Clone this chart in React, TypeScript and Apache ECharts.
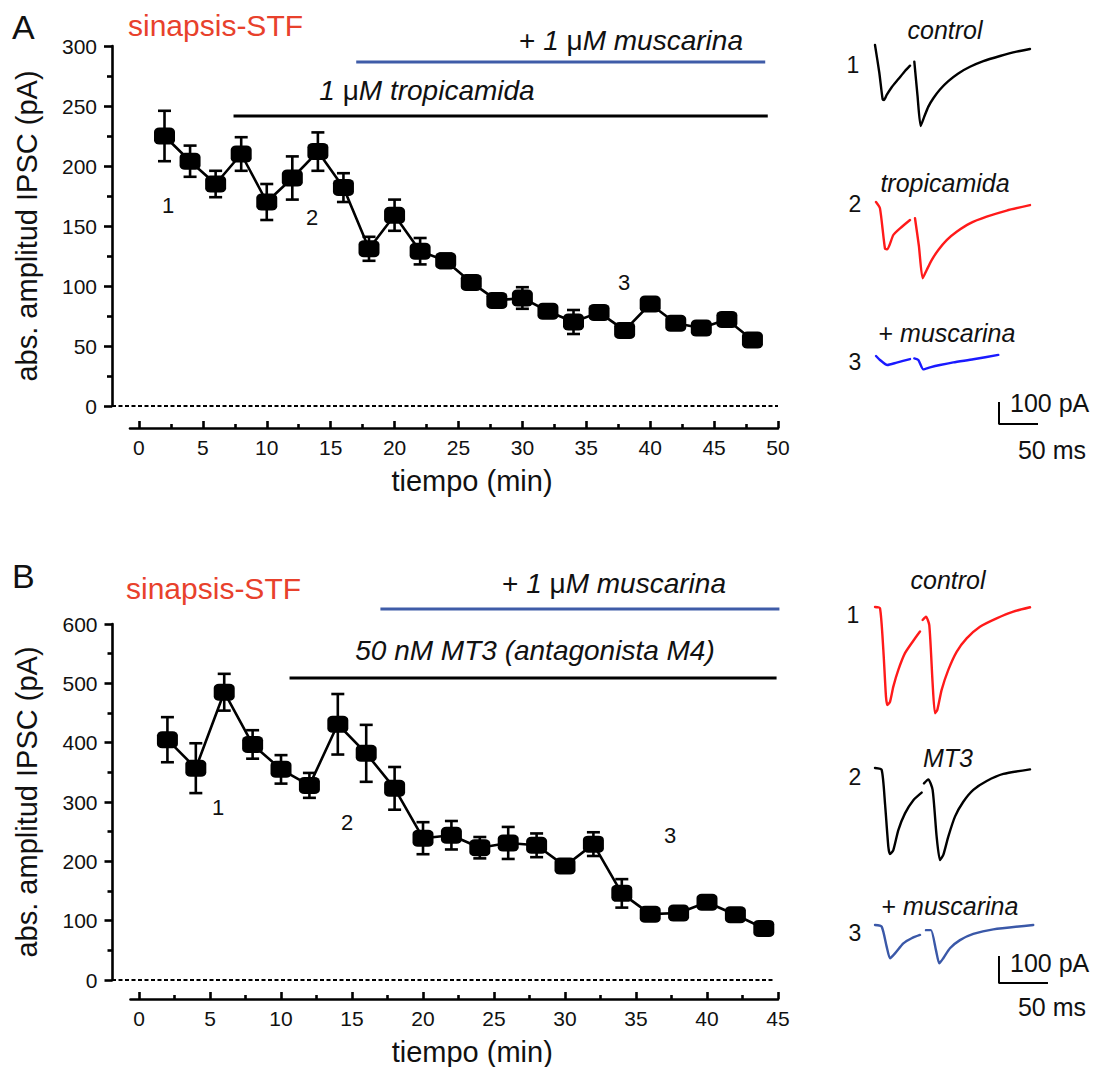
import React, { useEffect, useRef } from "react";
import * as echarts from "echarts";

const FONT = '"Liberation Sans", Arial, Helvetica, sans-serif';

// ---------- Panel A data (tiempo in min, amplitude in pA) ----------
const timeA = [2, 4, 6, 8, 10, 12, 14, 16, 18, 20, 22, 24, 26, 28, 30, 32, 34, 36, 38, 40, 42, 44, 46, 48];
const meanA = [225, 204, 185, 210, 170, 190, 212, 182, 131, 159, 129, 121, 103, 88, 90, 79, 70, 78, 63, 85, 69, 65, 72, 55];
const semA = [21, 13, 11, 14, 15, 18, 16, 12, 10, 13, 11, 6, 3, 3, 9, 4, 10, 3, 3, 4, 3, 3, 4, 3];
const ticksA = [0, 5, 10, 15, 20, 25, 30, 35, 40, 45, 50];
const minorTicksA = [2.5, 7.5, 12.5, 17.5, 22.5, 27.5, 32.5, 37.5, 42.5, 47.5];
const tropicamidaA = [7.4, 49.2];
const muscarinaA = [17.0, 49.0];

// ---------- Panel B data ----------
const timeB = [2, 4, 6, 8, 10, 12, 14, 16, 18, 20, 22, 24, 26, 28, 30, 32, 34, 36, 38, 40, 42, 44];
const meanB = [405, 357, 485, 397, 355, 328, 431, 382, 323, 239, 244, 223, 231, 227, 192, 229, 146, 111, 113, 131, 110, 87];
const semB = [38, 42, 31, 24, 24, 21, 51, 48, 36, 27, 24, 18, 27, 20, 5, 20, 24, 6, 8, 8, 8, 6];
const ticksB = [0, 5, 10, 15, 20, 25, 30, 35, 40, 45];
const minorTicksB = [2.5, 7.5, 12.5, 17.5, 22.5, 27.5, 32.5, 37.5, 42.5];
const mt3B = [10.6, 44.9];
const muscarinaB = [17.0, 45.1];

// ---------- Example traces (ms, pA); '-' = gap (stimulus artefact) ----------
const traceA1 = [[0, 0], [5.5, -125], [9.8, -247], [11.5, -250], [15, -227], [21.4, -192], [30, -155], [38.5, -118], [44.9, -94], [47, "-"],
  [50.4, -76], [54.5, -230], [58.5, -368], [62.8, -329], [68.4, -280], [74.8, -242], [83.3, -202], [94, -164], [106.8, -129], [121.8, -99], [138.9, -73], [160.3, -50], [181.6, -30], [198.7, -18]];
const traceA2 = [[0, 0], [5.1, -29], [11.5, -211], [14.5, -215], [22.2, -150], [30.8, -120], [43.6, -82], [47, "-"],
  [50, -74], [55, -200], [59.8, -347], [65, -309], [71.4, -264], [79.9, -218], [90.6, -173], [103.4, -135], [120.5, -97], [141.9, -67], [167.5, -39], [197.4, -14]];
const traceA3 = [[0, 0], [5.1, -18], [14.5, -41], [26.5, -30], [43.6, -14], [46, "-"],
  [49.1, -11], [54.3, -18], [60.7, -61], [69.2, -52], [82, -41], [99.1, -29], [124.8, -15], [156.8, 5]];
const traceB1 = [[0, 0], [5.1, -5], [8.5, -159], [11.2, -332], [12.6, -363], [15.3, -351], [18.7, -295], [23.8, -233], [30.6, -171], [39.1, -125], [45.9, -91], [47.3, "-"],
  [48.6, -48], [52, -36], [55.4, -67], [58.8, -283], [61.2, -394], [63.6, -381], [68, -307], [74.8, -233], [83.3, -166], [93.5, -116], [107.1, -73], [124.1, -42], [141.2, -17], [158.2, -1]];
const traceB2 = [[0, 0], [6.8, -7], [10.2, -131], [13.6, -291], [15.3, -319], [18.7, -304], [23.8, -230], [30.6, -168], [39.1, -119], [47.6, -91], [48.8, "-"],
  [50, -57], [54.4, -42], [58.8, -81], [62.9, -254], [66.3, -341], [69.7, -322], [74.8, -254], [81.6, -180], [90.1, -125], [100.3, -81], [114, -48], [131, -22], [158.2, -5]];
const traceB3 = [[0, 0], [6.8, -6], [11.9, -80], [15.3, -123], [20.4, -105], [28.9, -68], [37.4, -49], [45.9, -37], [49, "-"],
  [52, -19], [57.1, -19], [62.2, -93], [65.6, -142], [69.7, -123], [76.5, -86], [86.7, -56], [100.3, -33], [120.7, -16], [161.5, 0]];
const scaleBarPA = 100;
const scaleBarMs = 50;

const BLACK = "#000";
const RED = "#ff1a1a";
const BLUE_A = "#1a1aff";
const BLUE_B = "#3a58a8";
const BAR_BLUE = "#3f5ca8";
const TITLE_RED = "#e8412c";

function traceGrid(x0: number, y0: number, tMax: number, iMin: number, iMax: number, pxMs: number, pxPA: number) {
  return { left: x0, top: y0 - iMax * pxPA, width: tMax * pxMs, height: (iMax - iMin) * pxPA, containLabel: false };
}

function errorSeries(xIdx: number, yIdx: number, t: number[], m: number[], s: number[]) {
  return {
    type: "custom",
    xAxisIndex: xIdx,
    yAxisIndex: yIdx,
    z: 2,
    encode: { x: 0, y: [1, 2] },
    data: t.map((v, i) => [v, m[i] - s[i], m[i] + s[i]]),
    renderItem: (params: any, api: any) => {
      const lo = api.coord([api.value(0), api.value(1)]);
      const hi = api.coord([api.value(0), api.value(2)]);
      const hw = 6.5;
      const st = { stroke: BLACK, lineWidth: 2.6 };
      return {
        type: "group",
        children: [
          { type: "line", shape: { x1: lo[0], y1: lo[1], x2: hi[0], y2: hi[1] }, style: st },
          { type: "line", shape: { x1: lo[0] - hw, y1: lo[1], x2: lo[0] + hw, y2: lo[1] }, style: st },
          { type: "line", shape: { x1: hi[0] - hw, y1: hi[1], x2: hi[0] + hw, y2: hi[1] }, style: st },
        ],
      };
    },
  };
}

function meanSeries(xIdx: number, yIdx: number, t: number[], m: number[]) {
  return {
    type: "line",
    xAxisIndex: xIdx,
    yAxisIndex: yIdx,
    z: 3,
    data: t.map((v, i) => [v, m[i]]),
    symbol: "roundRect",
    symbolSize: [21, 17],
    itemStyle: { color: BLACK },
    lineStyle: { color: BLACK, width: 2.6 },
  };
}

function traceSeries(xIdx: number, yIdx: number, data: any[], color: string) {
  return {
    type: "line",
    xAxisIndex: xIdx,
    yAxisIndex: yIdx,
    data,
    showSymbol: false,
    symbol: "none",
    smooth: 0.2,
    connectNulls: false,
    lineStyle: { color, width: 2.4, join: "round", cap: "round" },
  };
}

function mainXAxes(grid: number, min: number, max: number, offset: number, ticks: number[], minor: number[]) {
  return [
    {
      type: "value", gridIndex: grid, min, max, position: "bottom", offset,
      axisLine: { show: true, onZero: false, lineStyle: { color: BLACK, width: 2.6 } },
      axisTick: { show: true, inside: true, length: 7, customValues: ticks, lineStyle: { color: BLACK, width: 2.6 } },
      axisLabel: { show: true, customValues: ticks, fontSize: 21, fontFamily: FONT, color: "#111", margin: 9 },
      splitLine: { show: false },
      name: "tiempo (min)", nameLocation: "middle", nameGap: 38,
      nameTextStyle: { fontSize: 29, fontFamily: FONT, color: "#111", padding: [0, 0, 0, 36] },
    },
    {
      type: "value", gridIndex: grid, min, max, position: "bottom", offset,
      axisLine: { show: false, onZero: false },
      axisTick: { show: true, inside: true, length: 4, customValues: minor, lineStyle: { color: BLACK, width: 2.6 } },
      axisLabel: { show: false },
      splitLine: { show: false },
    },
  ];
}

function mainYAxis(grid: number, max: number, interval: number) {
  return {
    type: "value", gridIndex: grid, min: 0, max, interval, offset: 18,
    axisLine: { show: true, onZero: false, lineStyle: { color: BLACK, width: 2.6 } },
    axisTick: { show: true, length: 8, lineStyle: { color: BLACK, width: 2.6 } },
    minorTick: { show: true, splitNumber: 2, length: 5, lineStyle: { color: BLACK, width: 2.6 } },
    minorSplitLine: { show: false },
    splitLine: { show: false },
    axisLabel: { fontSize: 21, fontFamily: FONT, color: "#111", margin: 15 },
    name: "abs. amplitud IPSC (pA)", nameLocation: "middle", nameGap: 71, nameRotate: 90,
    nameTextStyle: { fontSize: 29, fontFamily: FONT, color: "#111" },
  };
}

function hiddenAxis(grid: number, min: number, max: number) {
  return { type: "value", gridIndex: grid, min, max, show: false, splitLine: { show: false } };
}

export default function App() {
  const ref = useRef<HTMLDivElement | null>(null);

  useEffect(() => {
    document.body.style.margin = "0";
    const el = ref.current;
    if (!el) return;
    const chart = echarts.init(el, null, { renderer: "svg" });

    const option: any = {
      animation: false,
      backgroundColor: "#fff",
      grid: [
        { left: 130, top: 46, width: 648, height: 360, containLabel: false },
        { left: 130.5, top: 624, width: 647.5, height: 357, containLabel: false },
        traceGrid(875, 45, 200, -400, 20, 0.78, 0.22),
        traceGrid(876, 202, 200, -400, 20, 0.78, 0.22),
        traceGrid(876, 356, 210, -320, 20, 0.78, 0.22),
        traceGrid(875, 607, 160, -420, 20, 0.98, 0.27),
        traceGrid(875, 768, 160, -420, 20, 0.98, 0.27),
        traceGrid(875, 925, 180, -230, 20, 0.98, 0.27),
      ],
      xAxis: [
        ...mainXAxes(0, -0.7, 50, 22, ticksA, minorTicksA),
        ...mainXAxes(1, -0.6, 45, 19, ticksB, minorTicksB),
        hiddenAxis(2, 0, 200),
        hiddenAxis(3, 0, 200),
        hiddenAxis(4, 0, 210),
        hiddenAxis(5, 0, 160),
        hiddenAxis(6, 0, 160),
        hiddenAxis(7, 0, 180),
      ],
      yAxis: [
        mainYAxis(0, 300, 50),
        mainYAxis(1, 600, 100),
        hiddenAxis(2, -400, 20),
        hiddenAxis(3, -400, 20),
        hiddenAxis(4, -320, 20),
        hiddenAxis(5, -420, 20),
        hiddenAxis(6, -420, 20),
        hiddenAxis(7, -230, 20),
      ],
      series: [
        errorSeries(0, 0, timeA, meanA, semA),
        meanSeries(0, 0, timeA, meanA),
        errorSeries(2, 1, timeB, meanB, semB),
        meanSeries(2, 1, timeB, meanB),
        traceSeries(4, 2, traceA1, BLACK),
        traceSeries(5, 3, traceA2, RED),
        traceSeries(6, 4, traceA3, BLUE_A),
        traceSeries(7, 5, traceB1, RED),
        traceSeries(8, 6, traceB2, BLACK),
        traceSeries(9, 7, traceB3, BLUE_B),
        {
          type: "line", xAxisIndex: 6, yAxisIndex: 4, symbol: "none",
          lineStyle: { color: BLACK, width: 2 },
          data: [[157.7, -209], [157.7, -209 - scaleBarPA], [157.7 + scaleBarMs, -209 - scaleBarPA]],
        },
        {
          type: "line", xAxisIndex: 9, yAxisIndex: 7, symbol: "none",
          lineStyle: { color: BLACK, width: 2 },
          data: [[126.5, -115], [126.5, -115 - scaleBarPA], [126.5 + scaleBarMs, -115 - scaleBarPA]],
        },
      ],
    };
    chart.setOption(option);

    const pA = (x: number, y: number) => chart.convertToPixel({ xAxisIndex: 0, yAxisIndex: 0 } as any, [x, y]) as number[];
    const pB = (x: number, y: number) => chart.convertToPixel({ xAxisIndex: 2, yAxisIndex: 1 } as any, [x, y]) as number[];

    const txt = (x: number, y: number, text: string, size: number, extra: any = {}) => ({
      type: "text", x, y, z: 10,
      style: { text, fontSize: size, fontFamily: FONT, fill: "#111", align: "center", verticalAlign: "middle", ...extra },
    });
    const richTxt = (x: number, y: number, text: string, size: number, color = "#111") => ({
      type: "text", x, y, z: 10,
      style: {
        text, fontSize: size, fontFamily: FONT, fill: color, align: "center", verticalAlign: "middle",
        rich: {
          n: { fontSize: size, fontFamily: FONT, fontStyle: "normal", fill: color },
          i: { fontSize: size, fontFamily: FONT, fontStyle: "italic", fill: color },
        },
      },
    });
    const hline = (x1: number, x2: number, y: number, color: string, width: number, dash?: number[]) => ({
      type: "line", z: 5,
      shape: { x1, y1: y, x2, y2: y },
      style: { stroke: color, lineWidth: width, lineDash: dash },
    });

    const zeroA = pA(0, 0)[1];
    const zeroB = pB(0, 0)[1];

    const graphic: any[] = [
      // panel letters + titles
      txt(12, 27, "A", 34, { align: "left" }),
      txt(12, 576, "B", 34, { align: "left" }),
      txt(128, 25, "sinapsis-STF", 30, { align: "left", fill: TITLE_RED }),
      txt(126, 588, "sinapsis-STF", 30, { align: "left", fill: TITLE_RED }),
      // zero dashed lines
      hline(112, pA(50, 0)[0], zeroA, BLACK, 2, [4, 2.5]),
      hline(112, pB(45, 0)[0] - 4, zeroB, BLACK, 2, [4, 2.5]),
      // treatment bars A
      hline(pA(muscarinaA[0], 0)[0], pA(muscarinaA[1], 0)[0], 62, BAR_BLUE, 2.8),
      hline(pA(tropicamidaA[0], 0)[0], pA(tropicamidaA[1], 0)[0], 116, BLACK, 2.8),
      richTxt(631, 40, "{n|+ }{i|1 }{n|μ}{i|M muscarina}", 28),
      richTxt(427, 90, "{i|1 }{n|μ}{i|M tropicamida}", 28),
      // treatment bars B
      hline(pB(muscarinaB[0], 0)[0], pB(muscarinaB[1], 0)[0], 609, BAR_BLUE, 2.8),
      hline(pB(mt3B[0], 0)[0], pB(mt3B[1], 0)[0], 678, BLACK, 2.8),
      richTxt(614, 583, "{n|+ }{i|1 }{n|μ}{i|M muscarina}", 28),
      txt(535, 650, "50 nM MT3 (antagonista M4)", 28, { fontStyle: "italic" }),
      // sample markers
      txt(168, 205, "1", 22), txt(312, 217, "2", 22), txt(624, 282, "3", 22),
      txt(218, 807, "1", 22), txt(347, 822, "2", 22), txt(670, 835, "3", 22),
      // trace labels A
      txt(945, 30, "control", 25, { fontStyle: "italic" }),
      txt(853, 65, "1", 23),
      txt(945, 183, "tropicamida", 25, { fontStyle: "italic" }),
      txt(855, 204, "2", 23),
      richTxt(947, 333, "{n|+ }{i|muscarina}", 25),
      txt(855, 362, "3", 23),
      txt(1010, 403, "100 pA", 25, { align: "left" }),
      txt(1052, 450, "50 ms", 25),
      // trace labels B
      txt(948, 580, "control", 25, { fontStyle: "italic" }),
      txt(853, 615, "1", 23),
      txt(948, 758, "MT3", 25, { fontStyle: "italic" }),
      txt(855, 777, "2", 23),
      richTxt(950, 906, "{n|+ }{i|muscarina}", 25),
      txt(855, 933, "3", 23),
      txt(1010, 963, "100 pA", 25, { align: "left" }),
      txt(1052, 1007, "50 ms", 25),
    ];
    chart.setOption({ graphic });

    return () => chart.dispose();
  }, []);

  return <div ref={ref} style={{ width: 1099, height: 1067 }} />;
}
